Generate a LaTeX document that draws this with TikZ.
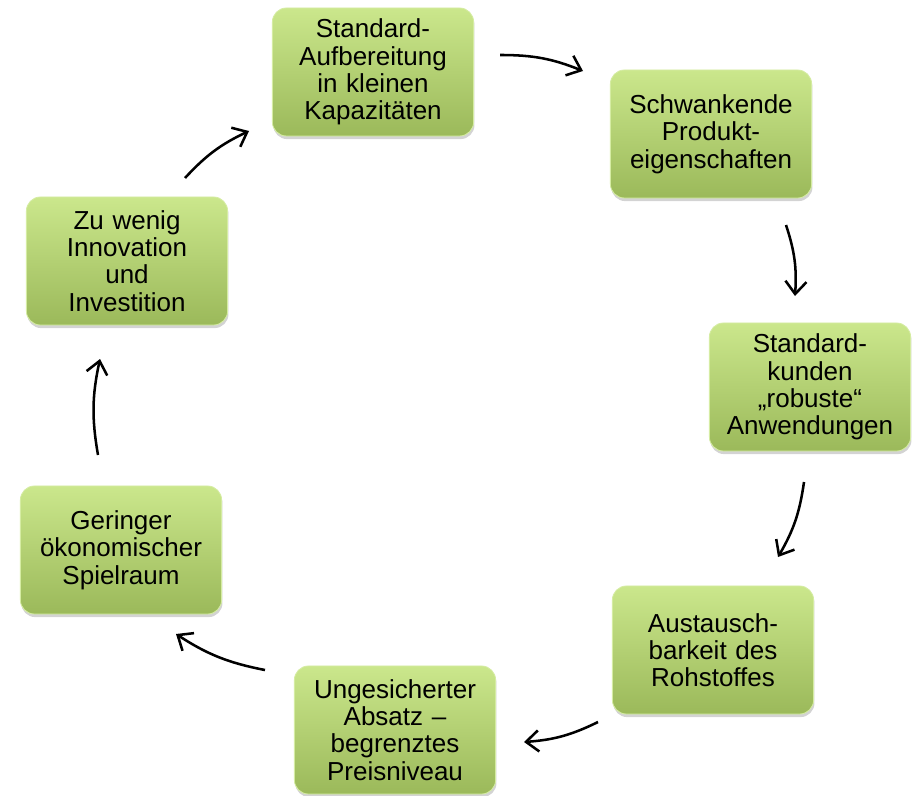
\documentclass[tikz,border=0pt]{standalone}
\usepackage{fontspec}
\setmainfont{Liberation Sans}
\usetikzlibrary{arrows.meta,shadows}
\definecolor{boxtop}{HTML}{CBE78C}
\definecolor{boxbot}{HTML}{9BB95A}
\tikzset{>={Straight Barb[length=9pt,width=15pt]}}
\tikzset{cbox/.style={rounded corners=10pt, minimum width=5.03cm, minimum height=3.2cm,
    top color=boxtop, bottom color=boxbot, draw=boxtop!80!white, line width=0.6pt,
    drop shadow={shadow xshift=0.6pt, shadow yshift=-2.2pt, opacity=0.35},
    inner xsep=2pt, align=center, text width=4.85cm, font=\fontsize{18.5}{19.4}\selectfont}}
\tikzset{cyc/.style={->, line width=1.8pt, bend left=11}}

\begin{document}
\begin{tikzpicture}[x=0.025cm, y=-0.025cm]
  \useasboundingbox (0,0) rectangle (912,795);
  % Boxes
  \node[cbox] (aufb) at (373,72) {Standard-\\Aufbereitung\\in kleinen\\Kapazitäten};
  \node[cbox] (schw) at (711,134) {Schwankende\\Produkt-\\eigenschaften};
  \node[cbox] (kund) at (810,387) {Standard-\\kunden\\„robuste“\\Anwendungen};
  \node[cbox] (taus) at (713,650) {Austausch-\\barkeit des\\Rohstoffes};
  \node[cbox] (absz) at (395,730) {Ungesicherter\\Absatz –\\begrenztes\\Preisniveau};
  \node[cbox] (spie) at (121,550) {Geringer\\ökonomischer\\Spielraum};
  \node[cbox] (inno) at (127,261) {Zu wenig\\Innovation\\und\\Investition};
  % Arrow ends
  \coordinate (a1s) at (500,55);  \coordinate (a1e) at (583,71);
  \coordinate (a2s) at (786,225); \coordinate (a2e) at (795,296);
  \coordinate (a3s) at (804,482); \coordinate (a3e) at (778,557);
  \coordinate (a4s) at (598,722); \coordinate (a4e) at (524,742);
  \coordinate (a5s) at (265,670); \coordinate (a5e) at (176,634);
  \coordinate (a6s) at (98,455);  \coordinate (a6e) at (100,359);
  \coordinate (a7s) at (185,178); \coordinate (a7e) at (249,131);
  % Arrows
  \draw[cyc] (a1s) to (a1e);
  \draw[cyc] (a2s) to (a2e);
  \draw[cyc] (a3s) to (a3e);
  \draw[cyc] (a4s) to (a4e);
  \draw[cyc] (a5s) to (a5e);
  \draw[cyc] (a6s) to (a6e);
  \draw[cyc] (a7s) to (a7e);
\end{tikzpicture}
\end{document}
